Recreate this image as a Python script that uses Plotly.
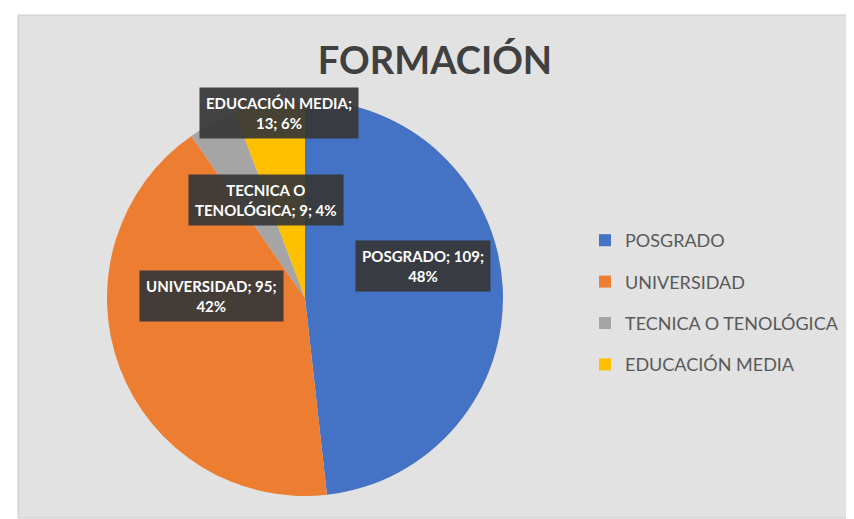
import textwrap
import plotly.graph_objects as go

# ---- data ----
categories = ["POSGRADO", "UNIVERSIDAD", "TECNICA O TENOLÓGICA", "EDUCACIÓN MEDIA"]
counts = [109, 95, 9, 13]
colors = ["#4472C4", "#ED7D31", "#A5A5A5", "#FFC000"]
title_text = "FORMACIÓN"

W, H = 854, 519
total = sum(counts)
pcts = [round(100 * v / total) for v in counts]

# label box centres (pixels from top-left of the image)
label_pos = [(415, 258), (203, 288), (258, 192), (271, 105)]

fig = go.Figure()

# pie
cx, cy, d = 297, 290, 396
fig.add_trace(go.Pie(
    labels=categories, values=counts, sort=False, direction="clockwise",
    rotation=0, marker=dict(colors=colors, line=dict(width=0)),
    textinfo="none", showlegend=False, hoverinfo="label+value+percent",
    domain=dict(x=[(cx - d / 2) / W, (cx + d / 2) / W],
                y=[1 - (cy + d / 2) / H, 1 - (cy - d / 2) / H]),
))

# legend entries
for i, (cat, col) in enumerate(zip(categories, colors)):
    fig.add_trace(go.Scatter(
        x=[None], y=[None], mode="markers", name=cat, legendgroup=f"g{i}",
        marker=dict(symbol="square", size=12, color=col),
    ))

# data labels
for cat, v, p, (px, py) in zip(categories, counts, pcts, label_pos):
    txt = "<br>".join(textwrap.wrap(f"{cat}; {v}; {p}%", 17))
    fig.add_annotation(
        x=px / W, y=1 - py / H, xref="paper", yref="paper",
        text=f"<b>{txt}</b>", showarrow=False,
        font=dict(family="Lato", size=15, color="white"),
        bgcolor="rgba(55,55,55,0.93)", borderpad=6,
        xanchor="center", yanchor="middle", align="center",
    )

# background frame
fig.add_shape(type="rect", xref="paper", yref="paper",
              x0=10 / W, x1=842 / W, y0=1 - 510 / H, y1=1 - 7 / H,
              fillcolor="#e2e2e2", line=dict(color="#c8c8c8", width=1), layer="below")

fig.update_layout(
    width=W, height=H,
    margin=dict(l=0, r=0, t=0, b=0),
    paper_bgcolor="white", plot_bgcolor="rgba(0,0,0,0)",
    xaxis=dict(visible=False), yaxis=dict(visible=False),
    title=dict(text=f"<b>{title_text}</b>", x=427 / W, xanchor="center",
               y=1 - 53 / H, yanchor="middle",
               font=dict(family="Lato", size=38, color="#404040")),
    legend=dict(x=577 / W, y=1 - 214 / H, xanchor="left", yanchor="top",
                font=dict(family="Lato", size=18, color="#595959"),
                itemwidth=30, tracegroupgap=15, bgcolor="rgba(0,0,0,0)"),
)

fig.write_html("out.html")
